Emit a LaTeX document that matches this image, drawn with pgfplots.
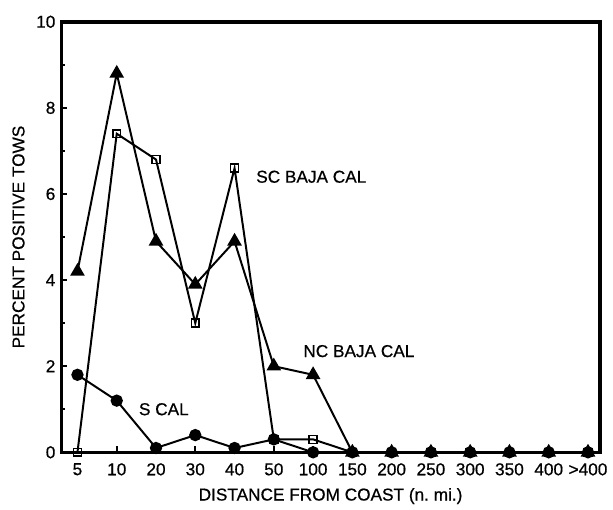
\documentclass[border=0pt]{standalone}
\usepackage{pgfplots}
\pgfplotsset{compat=1.18}
\usepackage{fontspec}
\setmainfont{Liberation Sans}[FakeBold=1.2]
\newfontfamily\lbl{Liberation Sans}[FakeBold=0.6]
\begin{document}
\begin{tikzpicture}
\lbl\fontsize{8.5}{10}\selectfont
\begin{axis}[
  scale only axis,
  width=272pt, height=217.5pt,
  xmin=-0.41, xmax=13.3,
  ymin=0, ymax=10,
  xtick={0,...,13},
  xticklabels={5,10,20,30,40,50,100,150,200,250,300,350,400,>400},
  ytick={0,2,4,6,8,10},
  minor ytick={1,3,5,7,9},
  tick align=inside,
  xtick pos=bottom, ytick pos=left,
  major tick length=3pt, minor tick length=2pt,
  tick style={line width=0.8pt, black},
  axis line style={line width=1.8pt},
  /pgf/number format/assume math mode=true,
  ticklabel style={font=\lbl\fontsize{8.7}{10}\selectfont},
  xticklabel style={yshift=-2.5pt},
  xlabel={DISTANCE FROM COAST (n.\ mi.)},
  ylabel={PERCENT POSITIVE TOWS},
  xlabel style={yshift=-0.5pt, font=\lbl\fontsize{8.7}{10}\selectfont},
  ylabel style={yshift=0pt, font=\lbl\fontsize{8.7}{10}\selectfont},
  clip=false,
  every axis plot/.append style={black, line width=1pt},
]
% NC BAJA CAL
\addplot[mark=triangle*, mark size=3.3pt, mark options={solid}] coordinates {
 (0,4.2) (1,8.8) (2,4.9) (3,3.9) (4,4.9) (5,2.0) (6,1.8) (7,0) (8,0) (9,0) (10,0) (11,0) (12,0) (13,0)};
% SC BAJA CAL
\addplot[mark=square, mark size=2pt, mark options={fill=white, line width=0.8pt}] coordinates {
 (0,0) (1,7.4) (2,6.8) (3,3.0) (4,6.6) (5,0.3) (6,0.3) (7,0) (8,0) (9,0) (10,0) (11,0) (12,0) (13,0)};
% S CAL
\addplot[mark=*, mark size=2.6pt] coordinates {
 (0,1.8) (1,1.2) (2,0.1) (3,0.4) (4,0.1) (5,0.3) (6,0) (7,0) (8,0) (9,0) (10,0) (11,0) (12,0) (13,0)};
\node[anchor=west, font=\lbl\fontsize{8.7}{10}\selectfont] at (axis cs:4.4,6.4) {SC BAJA CAL};
\node[anchor=west, font=\lbl\fontsize{8.7}{10}\selectfont] at (axis cs:5.6,2.35) {NC BAJA CAL};
\node[font=\lbl\fontsize{8.7}{10}\selectfont] at (axis cs:2.2,1.0) {S CAL};
\coordinate (O) at (rel axis cs:0,0);
\end{axis}
\path (O) ++(-31pt,-24.5pt) rectangle ++(306.5pt,253pt);
\end{tikzpicture}
\end{document}
